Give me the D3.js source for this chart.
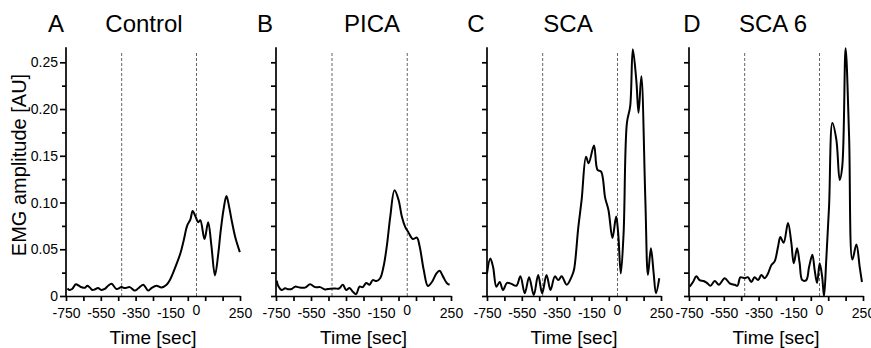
<!DOCTYPE html>
<html lang="en">
<head>
    <meta charset="utf-8">
    <title>EMG amplitude</title>
    <script src="https://d3js.org/d3.v7.min.js"></script>
    <style>
        body { margin: 0; background: #fff; }
        svg { display: block; font-family: "Liberation Sans", Arial, sans-serif; }
        .axis path, .axis line { stroke: #000; stroke-width: 1.7; fill: none; }
        .axis text { fill: #000; font-size: 14px; }
    </style>
</head>
<body>
<div id="chart"></div>
<script>
    // time grid (sec) and EMG amplitude per group
    var controlTime = [-742, -730, -715, -693, -676, -660, -641, -627, -613, -598, -585, -566, -547, -527, -508, -488, -460, -431, -412, -383, -355, -336, -306, -278, -259, -230, -201, -172, -153, -134, -115, -92, -73, -54, -35, -22, -8, 10, 22, 46, 67, 85, 106, 125, 138, 155, 172, 188, 201, 224, 249];
    var controlEmg  = [0.008, 0.0065, 0.0075, 0.0126, 0.011, 0.0094, 0.0088, 0.011, 0.009, 0.0065, 0.007, 0.0085, 0.0065, 0.0075, 0.011, 0.013, 0.0075, 0.0095, 0.0085, 0.0095, 0.0058, 0.008, 0.012, 0.0058, 0.0085, 0.011, 0.009, 0.012, 0.017, 0.025, 0.034, 0.046, 0.060, 0.075, 0.082, 0.091, 0.086, 0.079, 0.081, 0.061, 0.079, 0.055, 0.022, 0.045, 0.068, 0.092, 0.107, 0.095, 0.082, 0.062, 0.047];

    var picaTime = [-746, -737, -718, -698, -679, -660, -641, -613, -584, -555, -527, -498, -470, -441, -412, -390, -368, -349, -330, -311, -292, -273, -254, -235, -216, -197, -176, -155, -136, -117, -97, -73, -50, -31, -12, 7, 32, 55, 71, 94, 118, 141, 166, 185, 204, 227, 242];
    var picaEmg  = [0.0164, 0.0107, 0.0064, 0.0082, 0.0072, 0.0075, 0.010, 0.009, 0.009, 0.0125, 0.0095, 0.0095, 0.007, 0.0078, 0.008, 0.008, 0.012, 0.0064, 0.0085, 0.0046, 0.002, 0.010, 0.0095, 0.014, 0.012, 0.017, 0.016, 0.019, 0.031, 0.053, 0.085, 0.113, 0.103, 0.085, 0.074, 0.068, 0.061, 0.0625, 0.053, 0.028, 0.0107, 0.015, 0.024, 0.027, 0.021, 0.0136, 0.012];

    var scaTime = [-750, -731, -715, -696, -677, -658, -635, -610, -581, -558, -533, -508, -481, -456, -433, -408, -385, -360, -340, -321, -292, -263, -250, -225, -206, -181, -166, -135, -115, -94, -71, -52, -29, -8, 4, 19, 35, 54, 73, 88, 108, 121, 137, 160, 175, 192, 208, 221, 240];
    var scaEmg  = [0.024, 0.040, 0.031, 0.010, 0.015, 0.0064, 0.014, 0.013, 0.011, 0.021, 0.003, 0.020, 0.001, 0.0225, 0.003, 0.0225, 0.0064, 0.021, 0.017, 0.021, 0.012, 0.021, 0.028, 0.074, 0.103, 0.149, 0.142, 0.161, 0.135, 0.133, 0.105, 0.092, 0.062, 0.085, 0.067, 0.024, 0.067, 0.185, 0.203, 0.264, 0.231, 0.196, 0.235, 0.103, 0.0225, 0.051, 0.024, 0.003, 0.019];

    var sca6Time = [-746, -727, -708, -689, -666, -647, -627, -602, -578, -545, -516, -487, -471, -455, -430, -411, -392, -373, -353, -334, -315, -296, -277, -258, -238, -225, -206, -181, -162, -148, -129, -114, -99, -76, -60, -41, -28, -14, 1, 15, 26, 39, 55, 74, 97, 116, 131, 150, 170, 189, 212, 231, 244];
    var sca6Emg  = [0.010, 0.015, 0.021, 0.017, 0.016, 0.014, 0.011, 0.016, 0.012, 0.019, 0.0136, 0.012, 0.011, 0.020, 0.019, 0.020, 0.015, 0.020, 0.017, 0.0225, 0.019, 0.024, 0.033, 0.037, 0.053, 0.063, 0.057, 0.078, 0.057, 0.035, 0.051, 0.035, 0.017, 0.017, 0.031, 0.044, 0.028, 0.014, 0.035, 0.021, 0.0, 0.039, 0.096, 0.185, 0.167, 0.124, 0.139, 0.265, 0.171, 0.039, 0.055, 0.031, 0.015];

    var xTicks = [-750, -650, -550, -450, -350, -250, -150, -50, 50, 150, 250];
    var xTickLabels = [-750, -550, -350, -150, 250];
    var yTicks = [0, 0.025, 0.05, 0.075, 0.1, 0.125, 0.15, 0.175, 0.2, 0.225, 0.25];
    var yTickLabels = [0, 0.05, 0.1, 0.15, 0.2, 0.25];
    var markerTimes = [-430, 0];

    var panels = [
        { letter: "A", title: "Control", time: controlTime, emg: controlEmg, left: 66,  right: 240, letterX: 56,  titleX: 144, labels: true },
        { letter: "B", title: "PICA",    time: picaTime,    emg: picaEmg,    left: 276, right: 451, letterX: 265, titleX: 372 },
        { letter: "C", title: "SCA",     time: scaTime,     emg: scaEmg,     left: 487, right: 661, letterX: 476, titleX: 568 },
        { letter: "D", title: "SCA 6",   time: sca6Time,    emg: sca6Emg,    left: 689, right: 863, letterX: 692, titleX: 773 }
    ];

    var width = 871, height = 348;
    var y0 = 296, y25 = 62.3;

    var svg = d3.select("#chart").append("svg")
        .attr("width", width)
        .attr("height", height);

    var y = d3.scaleLinear().domain([0, 0.25]).range([y0, y25]);

    panels.forEach(function(p) {
        var x = d3.scaleLinear().domain([-750, 250]).range([p.left, p.right]);
        var g = svg.append("g");

        // dashed markers
        g.selectAll(".marker")
            .data(markerTimes)
            .enter().append("line")
            .attr("x1", function(d) { return x(d); })
            .attr("x2", function(d) { return x(d); })
            .attr("y1", y(0))
            .attr("y2", y(0.262))
            .attr("stroke", "#666")
            .attr("stroke-width", 1)
            .attr("stroke-dasharray", "3,2");

        // curve
        var line = d3.line()
            .x(function(d, i) { return x(p.time[i]); })
            .y(function(d) { return y(d); })
            .curve(d3.curveCatmullRom.alpha(0.5));

        g.append("path")
            .attr("d", line(p.emg))
            .attr("fill", "none")
            .attr("stroke", "#000")
            .attr("stroke-width", 2)
            .attr("stroke-linejoin", "round");

        // x axis
        var xAxis = d3.axisBottom(x)
            .tickValues(xTicks)
            .tickSize(5)
            .tickSizeOuter(0)
            .tickFormat(function(d) { return xTickLabels.indexOf(d) >= 0 ? d : ""; });

        var xg = g.append("g")
            .attr("class", "axis")
            .attr("transform", "translate(0," + y0 + ")")
            .call(xAxis);
        xg.selectAll("text").attr("dy", "1.02em");
        xg.append("text")
            .attr("x", x(0))
            .attr("y", 5)
            .attr("dy", "1.02em")
            .attr("text-anchor", "middle")
            .text("0");

        // y axis
        var yAxis = d3.axisLeft(y)
            .tickValues(yTicks)
            .tickSizeOuter(0)
            .tickSize(5)
            .tickFormat(function(d) {
                if (!p.labels) return "";
                if (yTickLabels.indexOf(d) < 0) return "";
                return d === 0 ? "0" : d3.format(".2f")(d);
            });

        var yg = g.append("g")
            .attr("class", "axis")
            .attr("transform", "translate(" + p.left + ",0)")
            .call(yAxis);
        yg.select(".domain").remove();
        yg.selectAll("text").attr("x", -8);
        if (p.labels) {
            yg.selectAll(".tick line")
                .attr("x2", function(d) { return yTickLabels.indexOf(d) >= 0 ? -6 : -4; });
        }
        yg.append("line")
            .attr("x1", 0).attr("x2", 0)
            .attr("y1", y0 + 1).attr("y2", y(0.266))
            .attr("stroke", "#000")
            .attr("stroke-width", 1.8);

        // panel heading
        svg.append("text")
            .attr("x", p.letterX)
            .attr("y", 32)
            .attr("text-anchor", "middle")
            .style("font-size", "24px")
            .text(p.letter);

        svg.append("text")
            .attr("x", p.titleX)
            .attr("y", 32)
            .attr("text-anchor", "middle")
            .style("font-size", "24px")
            .text(p.title);

        svg.append("text")
            .attr("x", (p.left + p.right) / 2)
            .attr("y", 344)
            .attr("text-anchor", "middle")
            .style("font-size", "19px")
            .text("Time [sec]");
    });

    svg.append("text")
        .attr("transform", "translate(26,165) rotate(-90)")
        .attr("text-anchor", "middle")
        .style("font-size", "20px")
        .text("EMG amplitude [AU]");
</script>
</body>
</html>
